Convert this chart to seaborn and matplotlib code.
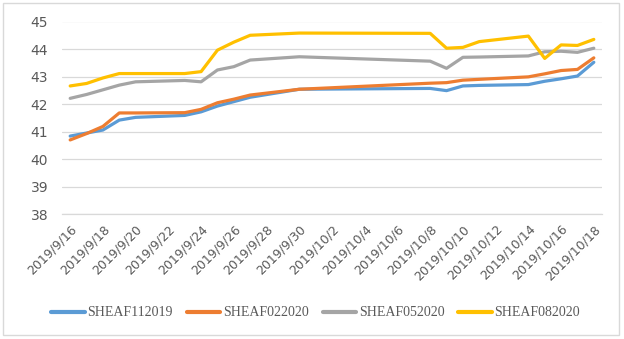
import matplotlib
matplotlib.use("Agg")
import matplotlib.pyplot as plt
from matplotlib.patches import Rectangle
import seaborn as sns
import pandas as pd

# ---- data ----
dates = ["2019-09-16", "2019-09-17", "2019-09-18", "2019-09-19", "2019-09-20",
         "2019-09-23", "2019-09-24", "2019-09-25", "2019-09-26", "2019-09-27",
         "2019-09-30", "2019-10-08", "2019-10-09", "2019-10-10", "2019-10-11",
         "2019-10-14", "2019-10-15", "2019-10-16", "2019-10-17", "2019-10-18"]

sheaf112019 = [40.84, 40.95, 41.06, 41.42, 41.52, 41.59, 41.72, 41.93, 42.09, 42.25,
               42.54, 42.57, 42.49, 42.66, 42.68, 42.71, 42.83, 42.92, 43.02, 43.52]
sheaf022020 = [40.70, 40.93, 41.19, 41.68, 41.68, 41.69, 41.81, 42.05, 42.18, 42.33,
               42.54, 42.76, 42.78, 42.87, 42.90, 42.99, 43.10, 43.22, 43.26, 43.68]
sheaf052020 = [42.21, 42.35, 42.52, 42.69, 42.81, 42.86, 42.81, 43.24, 43.36, 43.60,
               43.72, 43.56, 43.30, 43.70, 43.71, 43.75, 43.90, 43.92, 43.88, 44.03]
sheaf082020 = [42.66, 42.75, 42.95, 43.11, 43.11, 43.11, 43.18, 43.96, 44.25, 44.50,
               44.58, 44.57, 44.03, 44.06, 44.27, 44.47, 43.66, 44.15, 44.13, 44.35]

series_names = ["SHEAF112019", "SHEAF022020", "SHEAF052020", "SHEAF082020"]
series_values = [sheaf112019, sheaf022020, sheaf052020, sheaf082020]
colors = ["#5B9BD5", "#ED7D31", "#A5A5A5", "#FFC000"]

tick_labels = ["2019/9/16", "2019/9/18", "2019/9/20", "2019/9/22", "2019/9/24",
               "2019/9/26", "2019/9/28", "2019/9/30", "2019/10/2", "2019/10/4",
               "2019/10/6", "2019/10/8", "2019/10/10", "2019/10/12", "2019/10/14",
               "2019/10/16", "2019/10/18"]
y_ticks = [38, 39, 40, 41, 42, 43, 44, 45]

# ---- build long table ----
start = pd.Timestamp("2019-09-16")
day_idx = [(pd.Timestamp(d) - start).days for d in dates]
rows = []
for name, vals in zip(series_names, series_values):
    for d, v in zip(day_idx, vals):
        rows.append({"day": d, "value": v, "series": name})
df = pd.DataFrame(rows)

sns.set_theme(style="white")
plt.rcParams["font.family"] = ["DejaVu Sans"]

fig = plt.figure(figsize=(6.24, 3.39), dpi=100)
ax = fig.add_axes([62 / 624, 1 - 214.3 / 339, 540 / 624, (214.3 - 21.5) / 339])

sns.lineplot(data=df, x="day", y="value", hue="series", hue_order=series_names,
             palette=colors, linewidth=2.3, estimator=None, ax=ax, legend=True)

n_days = 33
ax.set_xlim(-0.5, n_days - 0.5)
ax.set_ylim(38, 45)
ax.set_yticks(y_ticks)
ax.set_yticklabels([str(t) for t in y_ticks], fontsize=10, color="#595959")
ax.set_xticks(list(range(0, n_days, 2)))
ax.set_xticklabels(tick_labels, rotation=45, ha="right", rotation_mode="anchor",
                   fontsize=9, color="#595959")
ax.set_xticks([x - 0.5 for x in range(0, n_days + 1, 2)], minor=True)
ax.tick_params(axis="x", which="major", length=0, pad=6)
ax.tick_params(axis="x", which="minor", length=4, width=0.8, color="#D9D9D9")
ax.tick_params(axis="y", length=0, pad=10)
ax.grid(axis="y", color="#D9D9D9", linewidth=0.9)
ax.set_axisbelow(True)
for s in ["top", "right", "left"]:
    ax.spines[s].set_visible(False)
ax.spines["bottom"].set_color("#D9D9D9")
ax.spines["bottom"].set_linewidth(0.9)
ax.set_xlabel("")
ax.set_ylabel("")

ax.get_legend().remove()
handles, labels = ax.get_legend_handles_labels()
leg = fig.legend(handles, labels, loc="center", bbox_to_anchor=(0.506, 1 - 313 / 339),
                 ncol=4, frameon=False, handlelength=2.4, handletextpad=0.2,
                 columnspacing=1.0,
                 prop={"family": "Liberation Serif", "size": 10})
for t in leg.get_texts():
    t.set_color("#595959")
for l in leg.get_lines():
    l.set_linewidth(3)

fig.patches.append(Rectangle((3 / 624, 4 / 339), 616 / 624, 332 / 339,
                             transform=fig.transFigure, fill=False,
                             edgecolor="#D9D9D9", linewidth=1))

fig.savefig("out.png", dpi=100)
